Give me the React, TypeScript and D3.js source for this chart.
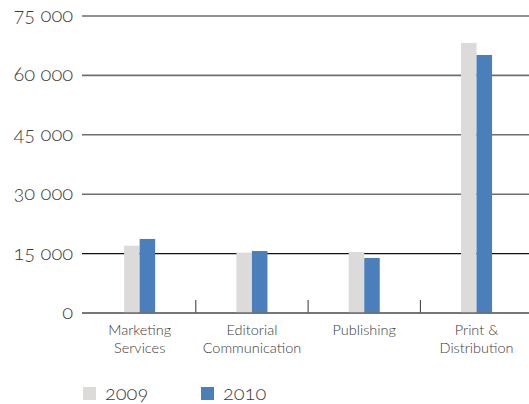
import React from "react";
import * as d3 from "d3";

const categories = ["Marketing\nServices", "Editorial\nCommunication", "Publishing", "Print &\nDistribution"];
const series2009 = [17000, 15250, 15400, 68200];
const series2010 = [18700, 15650, 13900, 65150];
const seriesNames = ["2009", "2010"];
const yTicks = [0, 15000, 30000, 45000, 60000, 75000];

const W = 529;
const H = 404;
const colors = ["#dcdbd9", "#4b7fbc"];

export default function App() {
  const y = d3.scaleLinear().domain([0, 75000]).range([313, 16]);
  const x = d3.scaleBand().domain(categories).range([83.5, 532.7]).paddingInner(0).paddingOuter(0);
  const inner = d3.scaleBand().domain(seriesNames).range([-15.5, 15.5]);
  const fmt = (v: number) => (v === 0 ? "0" : d3.format(",")(v).replace(/,/g, " "));
  const font = "Lato, 'Open Sans', sans-serif";
  const data = [series2009, series2010];

  return (
    <svg width={W} height={H} style={{ position: "absolute", left: 0, top: 0, background: "#fff" }}>
      <g>
        {yTicks.map((t) => (
          <g key={t}>
            <line
              x1={82}
              x2={W}
              y1={y(t)}
              y2={y(t)}
              stroke={t === 15000 ? "#111" : "#6e6e6e"}
              strokeWidth={t === 15000 ? 1.3 : 1.6}
            />
            <text
              x={73}
              y={y(t) + 6}
              textAnchor="end"
              fontFamily={font}
              fontWeight={300}
              fontSize={20}
              fill="#3a3a3a"
              style={{ fontVariantNumeric: "oldstyle-nums" }}
            >
              {fmt(t)}
            </text>
          </g>
        ))}
        {categories.slice(1).map((c) => (
          <line key={c} x1={x(c)!} x2={x(c)!} y1={300} y2={313} stroke="#333" strokeWidth={1} />
        ))}
        {categories.map((c, i) => (
          <g key={c}>
            {data.map((s, k) => (
              <rect
                key={k}
                x={x(c)! + x.bandwidth() / 2 + inner(seriesNames[k])!}
                y={y(s[i])}
                width={inner.bandwidth()}
                height={y(0) - y(s[i])}
                fill={colors[k]}
              />
            ))}
            {c.split("\n").map((line, j) => (
              <text
                key={j}
                x={x(c)! + x.bandwidth() / 2}
                y={335 + j * 17.5}
                textAnchor="middle"
                fontFamily={font}
                fontWeight={300}
                fontSize={14.5}
                fill="#3a3a3a"
              >
                {line}
              </text>
            ))}
          </g>
        ))}
        <line x1={82} x2={W} y1={y(0)} y2={y(0)} stroke="#6e6e6e" strokeWidth={1.6} />
      </g>
      <g>
        {seriesNames.map((n, k) => (
          <g key={n} transform={`translate(${83 + k * 118},387)`}>
            <rect x={0} y={0} width={13} height={13} fill={colors[k]} />
            <text
              x={22}
              y={13}
              fontFamily={font}
              fontWeight={300}
              fontSize={20}
              fill="#3a3a3a"
              style={{ fontVariantNumeric: "oldstyle-nums" }}
            >
              {n}
            </text>
          </g>
        ))}
      </g>
    </svg>
  );
}
